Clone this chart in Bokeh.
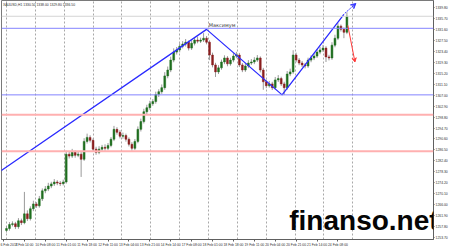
from bokeh.plotting import figure
from bokeh.models import (ColumnDataSource, Range1d, FixedTicker, PrintfTickFormatter,
                          Label, Span, Arrow, VeeHead)
from bokeh.embed import file_html
from bokeh.resources import INLINE

# ---------------- data ----------------
opens = [1256.4, 1257.1, 1258.6, 1258.9, 1257.8, 1260.0, 1259.3, 1262.6, 1260.8, 1264.5,
         1266.3, 1265.6, 1268.2, 1271.2, 1271.9, 1273.0, 1273.8, 1274.5, 1274.1, 1273.9,
         1274.5, 1284.9, 1284.2, 1285.6, 1284.5, 1284.9, 1283.0, 1289.7, 1291.2, 1290.1,
         1286.8, 1285.6, 1286.8, 1287.5, 1287.1, 1288.2, 1290.5, 1294.2, 1293.1, 1291.6,
         1291.9, 1290.5, 1288.6, 1287.1, 1289.7, 1294.2, 1297.1, 1300.8, 1302.3, 1303.8,
         1304.6, 1307.2, 1308.3, 1309.8, 1314.2, 1316.4, 1320.1, 1323.1, 1323.9, 1325.3,
         1326.1, 1326.8, 1324.6, 1326.4, 1327.6, 1327.2, 1327.6, 1328.3, 1326.8, 1322.0,
         1318.3, 1315.7, 1317.2, 1319.4, 1320.9, 1318.7, 1320.1, 1321.6, 1322.0, 1318.3,
         1316.4, 1317.9, 1319.0, 1319.4, 1320.1, 1320.9, 1316.4, 1312.0, 1310.5, 1311.2,
         1309.8, 1312.7, 1313.2, 1311.2, 1309.8, 1314.9, 1315.7, 1322.0, 1320.1, 1319.0,
         1318.3, 1317.9, 1320.1, 1320.9, 1321.6, 1323.1, 1323.9, 1324.6, 1321.3, 1320.9,
         1325.7, 1328.3, 1332.8, 1331.6, 1330.5]
highs = [1258.0, 1259.5, 1259.8, 1259.6, 1261.0, 1260.8, 1270.8, 1263.9, 1265.4, 1267.5,
         1267.0, 1269.3, 1272.1, 1273.0, 1274.2, 1274.6, 1275.6, 1275.2, 1274.9, 1275.4,
         1286.2, 1285.8, 1286.9, 1286.3, 1285.9, 1285.7, 1290.9, 1292.6, 1292.0, 1290.8,
         1287.7, 1287.9, 1288.4, 1288.6, 1289.1, 1291.3, 1295.5, 1295.0, 1293.9, 1293.0,
         1292.6, 1291.2, 1289.4, 1290.6, 1295.3, 1298.2, 1301.9, 1303.4, 1304.9, 1305.5,
         1308.3, 1309.2, 1311.0, 1315.6, 1317.7, 1321.4, 1324.5, 1325.0, 1326.4, 1327.2,
         1328.0, 1327.4, 1327.5, 1328.6, 1328.9, 1328.5, 1330.2, 1329.1, 1327.5, 1322.9,
         1319.1, 1318.2, 1320.3, 1321.9, 1321.6, 1321.0, 1322.7, 1323.2, 1322.8, 1319.0,
         1318.9, 1320.1, 1320.5, 1321.2, 1322.0, 1321.5, 1317.2, 1312.8, 1312.3, 1312.0,
         1313.8, 1314.5, 1313.9, 1312.0, 1316.0, 1316.9, 1323.8, 1322.9, 1320.9, 1319.8,
         1319.1, 1321.0, 1321.9, 1322.6, 1324.2, 1325.1, 1325.8, 1325.3, 1322.1, 1326.8,
         1329.6, 1333.9, 1333.4, 1332.3, 1338.0]
lows = [1255.6, 1256.3, 1257.9, 1256.9, 1257.0, 1258.4, 1258.7, 1259.9, 1260.1, 1263.6,
        1264.8, 1264.9, 1267.4, 1270.3, 1271.1, 1272.2, 1273.0, 1273.3, 1273.0, 1273.2,
        1273.9, 1283.3, 1283.5, 1283.6, 1283.8, 1276.4, 1282.4, 1288.9, 1289.3, 1285.9,
        1284.7, 1284.9, 1286.0, 1286.2, 1286.4, 1287.5, 1289.8, 1292.2, 1290.8, 1290.7,
        1289.6, 1287.8, 1286.2, 1286.5, 1289.0, 1293.4, 1296.4, 1299.9, 1301.5, 1303.0,
        1303.8, 1306.3, 1307.5, 1309.0, 1313.3, 1315.6, 1319.3, 1322.2, 1323.0, 1324.5,
        1325.2, 1323.7, 1323.9, 1325.6, 1326.4, 1326.5, 1326.9, 1326.0, 1320.1, 1317.4,
        1313.8, 1314.9, 1316.5, 1318.6, 1317.8, 1318.0, 1319.3, 1320.8, 1317.5, 1315.6,
        1315.7, 1317.1, 1318.3, 1318.6, 1319.4, 1315.5, 1309.0, 1309.6, 1309.8, 1308.9,
        1309.1, 1311.9, 1310.4, 1307.1, 1309.0, 1314.1, 1315.0, 1319.3, 1318.2, 1317.5,
        1317.0, 1317.2, 1319.3, 1320.1, 1320.9, 1322.3, 1323.1, 1319.4, 1320.0, 1320.2,
        1324.9, 1327.6, 1330.8, 1328.3, 1329.8]
closes = [1257.1, 1258.6, 1258.9, 1257.8, 1260.0, 1259.3, 1262.6, 1260.8, 1264.5, 1266.3,
          1265.6, 1268.2, 1271.2, 1271.9, 1273.0, 1273.8, 1274.5, 1274.1, 1273.9, 1274.5,
          1284.9, 1284.2, 1285.6, 1284.5, 1284.9, 1283.0, 1289.7, 1291.2, 1290.1, 1286.8,
          1285.6, 1286.8, 1287.5, 1287.1, 1288.2, 1290.5, 1294.2, 1293.1, 1291.6, 1291.9,
          1290.5, 1288.6, 1287.1, 1289.7, 1294.2, 1297.1, 1300.8, 1302.3, 1303.8, 1304.6,
          1307.2, 1308.3, 1309.8, 1314.2, 1316.4, 1320.1, 1323.1, 1323.9, 1325.3, 1326.1,
          1326.8, 1324.6, 1326.4, 1327.6, 1327.2, 1327.6, 1328.3, 1326.8, 1322.0, 1318.3,
          1315.7, 1317.2, 1319.4, 1320.9, 1318.7, 1320.1, 1321.6, 1322.0, 1318.3, 1316.4,
          1317.9, 1319.0, 1319.4, 1320.1, 1320.9, 1316.4, 1312.0, 1310.5, 1311.2, 1309.8,
          1312.7, 1313.2, 1311.2, 1309.8, 1314.9, 1315.7, 1322.0, 1320.1, 1319.0, 1318.3,
          1317.9, 1320.1, 1320.9, 1321.6, 1323.1, 1323.9, 1324.6, 1321.3, 1320.9, 1325.7,
          1328.3, 1332.8, 1331.6, 1330.5, 1336.5]
assert len(opens) == len(highs) == len(lows) == len(closes)

price_ticks = [1253.70, 1257.80, 1261.90, 1266.00, 1270.10, 1274.20, 1278.30, 1282.40,
               1286.50, 1290.60, 1294.70, 1298.80, 1302.90, 1307.00, 1311.10, 1315.20,
               1319.30, 1323.40, 1327.50, 1331.60, 1335.70, 1339.80]
date_labels = ["6 Feb 2014", "7 Feb 14:00", "10 Feb 08:00", "11 Feb 01:00", "11 Feb 18:00",
               "12 Feb 11:00", "13 Feb 04:00", "13 Feb 21:00", "14 Feb 14:00", "17 Feb 08:00",
               "18 Feb 01:00", "18 Feb 18:00", "19 Feb 11:00", "20 Feb 04:00", "20 Feb 21:00",
               "21 Feb 14:00", "24 Feb 08:00"]
date_label_bars = [-1, 6, 13, 20, 27, 34, 41, 48, 55, 62, 69, 76, 83, 90, 97, 104, 111]
grid_bars = [0, 9.67, 19.33, 29, 38.67, 48.33, 58, 67.67, 77.33, 87, 96.67, 106.33, 116]

blue_levels = [1332.0, 1307.1]
red_levels = [1299.7, 1286.0]
bid_price = 1336.5

trend_x = [-2.0, 67.0, 92.3, 113.0]
trend_y = [1278.6, 1331.6, 1307.1, 1337.2]
up_arrow = (113.3, 1337.6, 117.0, 1341.3)
down_arrow = (114.3, 1333.1, 116.7, 1319.4)
peak_label = (67.7, 1333.1, "Максимум")
header = "XAUUSD,H1  1330.50 1338.00 1329.80 1336.50"
watermark = (94.7, 1260.0, "finanso.net")

BULL = "#1f6e1f"
BEAR = "#8a1f1f"
AX_FONT = "Liberation Sans"
AX_SIZE = "3.4px"

bars = list(range(len(closes)))
src = ColumnDataSource(dict(
    x=bars, o=opens, h=highs, l=lows, c=closes,
    color=[BULL if c >= o else BEAR for o, c in zip(opens, closes)],
))

p = figure(width=450, height=249,
           x_range=Range1d(-1.667, 143.0), y_range=Range1d(1253.0, 1342.4),
           output_backend="svg", toolbar_location=None, y_axis_location="right",
           min_border_left=1, min_border_right=15, min_border_top=0, min_border_bottom=8)
p.background_fill_color = "white"
p.border_fill_color = "white"
p.outline_line_color = "#7a7a7a"

p.ygrid.visible = False
p.xgrid.ticker = FixedTicker(ticks=grid_bars)
p.xgrid.grid_line_color = "#a8a8a8"
p.xgrid.grid_line_dash = "2 2"

# level lines
p.add_layout(Span(location=bid_price, dimension="width", line_color="#d4d4d4", line_width=1))
for lv in blue_levels:
    p.add_layout(Span(location=lv, dimension="width", line_color="#8484ff", line_width=1))
for lv in red_levels:
    p.add_layout(Span(location=lv, dimension="width", line_color="#ffb0b0", line_width=2))

# candles
p.segment(x0="x", y0="l", x1="x", y1="h", source=src, line_color="#9a9a9a", line_width=1)
p.vbar(x="x", width=0.62, top="o", bottom="c", source=src,
       fill_color="color", line_color="color", line_width=0.5)

# trend lines
p.line(trend_x, trend_y, line_color="#2b2bff", line_width=1.3)
p.add_layout(Arrow(x_start=up_arrow[0], y_start=up_arrow[1], x_end=up_arrow[2], y_end=up_arrow[3],
                   line_color="#3a3aff", line_width=1, line_dash="2 1",
                   end=VeeHead(size=5, line_color="#3a3aff", fill_color="#3a3aff", line_width=1)))
p.add_layout(Arrow(x_start=down_arrow[0], y_start=down_arrow[1], x_end=down_arrow[2], y_end=down_arrow[3],
                   line_color="#ff3a3a", line_width=1,
                   end=VeeHead(size=4, line_color="#ff3a3a", fill_color="#ff3a3a", line_width=1)))

p.add_layout(Label(x=peak_label[0], y=peak_label[1], text=peak_label[2],
                   text_font="DejaVu Sans", text_font_size="5px", text_color="#404040",
                   text_baseline="alphabetic", text_align="left"))
p.add_layout(Label(x=-1.2, y=1340.9, text=header, text_font=AX_FONT,
                   text_font_size=AX_SIZE, text_color="#303030",
                   text_baseline="middle", text_align="left"))

# axes
ax = p.yaxis[0]
ax.ticker = FixedTicker(ticks=price_ticks)
ax.formatter = PrintfTickFormatter(format="%.2f")
ax.major_label_text_font_size = AX_SIZE
ax.major_label_text_font = AX_FONT
ax.major_label_text_color = "#303030"
ax.major_label_standoff = 1
ax.major_tick_out = 1
ax.major_tick_in = 0
ax.minor_tick_out = 0
ax.minor_tick_in = 0
ax.axis_line_color = "#606060"
ax.major_tick_line_color = "#606060"

bx = p.xaxis[0]
bx.ticker = FixedTicker(ticks=date_label_bars)
bx.major_label_overrides = {b: t for b, t in zip(date_label_bars, date_labels)}
bx.major_label_text_font_size = AX_SIZE
bx.major_label_text_font = AX_FONT
bx.major_label_text_color = "#303030"
bx.major_label_text_align = "left"
bx.major_label_standoff = 1
bx.major_tick_out = 2
bx.major_tick_in = 0
bx.minor_tick_out = 0
bx.minor_tick_in = 0
bx.axis_line_color = "#606060"
bx.major_tick_line_color = "#606060"

# price boxes on the axis
for lv, bg in [(bid_price, "#000000")] + [(lv, "#1c1cff") for lv in blue_levels] + \
              [(lv, "#ff1c1c") for lv in red_levels]:
    p.add_layout(Label(x=143.0, y=lv, text=f"{lv:.2f}", text_font=AX_FONT,
                       text_font_size=AX_SIZE, text_color="white", text_align="left",
                       text_baseline="middle", x_offset=0.5,
                       background_fill_color=bg, padding=1))

# watermark
p.add_layout(Label(x=watermark[0], y=watermark[1], text=watermark[2], text_font="Liberation Sans",
                   text_font_style="bold", text_font_size="28px", text_color="#050505",
                   text_align="left", text_baseline="alphabetic"))

open("out.html", "w").write(file_html(p, INLINE))
